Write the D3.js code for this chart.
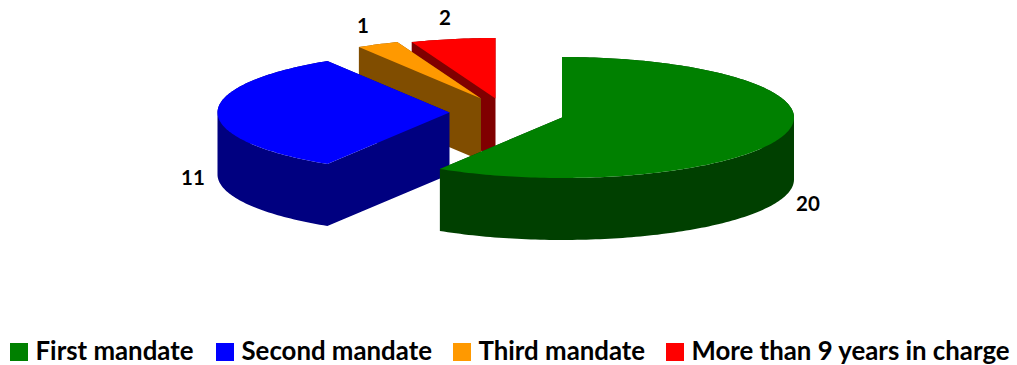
<!DOCTYPE html>
<html>
<head>
<meta charset="utf-8">
<script src="https://cdn.jsdelivr.net/npm/d3@7"></script>
<style>
  html, body { margin: 0; padding: 0; background: #fff; }
  svg { display: block; }
  text { font-family: Lato, "Open Sans", sans-serif; font-weight: 700; fill: #000; }
</style>
</head>
<body>
<div id="chart"></div>
<script>
var categories = ["First mandate", "Second mandate", "Third mandate", "More than 9 years in charge"];
var values = [20, 11, 1, 2];
var topColors = ["#008000", "#0000ff", "#ff9900", "#ff0000"];
var sideColors = ["#004000", "#000080", "#804d00", "#800000"];

// layout of the exploded slices, same order as categories
var centers = [[562, 117.5], [449.5, 112.5], [481, 98.5], [495.5, 98.5]];
var labelPos = [[808, 211], [193, 185], [363, 33], [445, 25]];
var legendX = [10, 216, 453, 666];

var width = 1017, height = 365;
var radiusX = 232, radiusY = 60.5, depth = 62;

var svg = d3.select("#chart").append("svg")
    .attr("width", width)
    .attr("height", height);

var pie = d3.pie().sort(null).value(function(d){ return d; });
var slices = pie(values);

// unit circle onto the tilted plane
var projX = d3.scaleLinear().domain([-1, 1]).range([-radiusX, radiusX]);
var projY = d3.scaleLinear().domain([-1, 1]).range([radiusY, -radiusY]);

function rimPoints(d, c){
    var n = Math.max(2, Math.ceil((d.endAngle - d.startAngle) / 0.02));
    return d3.range(n + 1).map(function(i){
        var a = d.startAngle + (d.endAngle - d.startAngle) * i / n;
        return [c[0] + projX(Math.sin(a)), c[1] + projY(Math.cos(a))];
    });
}

var line = d3.line();

function topPath(d, c){
    return line([c].concat(rimPoints(d, c))) + "Z";
}

// one quad hanging below an edge of the top face
function wallQuad(p, q){
    var quad = [p, q, [q[0], q[1] + depth], [p[0], p[1] + depth]];
    // same winding everywhere, so overlapping quads stay filled
    if (d3.polygonArea(quad) < 0) quad.reverse();
    return line(quad) + "Z";
}

function wallPath(d, c){
    var rim = rimPoints(d, c);
    var path = wallQuad(c, rim[0]) + wallQuad(c, rim[rim.length - 1]);
    for (var i = 1; i < rim.length; i++) {
        path += wallQuad(rim[i - 1], rim[i]);
    }
    return path;
}

// back slices first
var drawOrder = [3, 2, 1, 0];

var groups = svg.selectAll("g.slice")
    .data(drawOrder)
    .enter().append("g")
    .attr("class", "slice");

groups.append("path")
    .attr("d", function(i){ return wallPath(slices[i], centers[i]); })
    .attr("fill", function(i){ return sideColors[i]; });

groups.append("path")
    .attr("d", function(i){ return topPath(slices[i], centers[i]); })
    .attr("fill", function(i){ return topColors[i]; });

svg.selectAll("text.value")
    .data(values)
    .enter().append("text")
    .attr("class", "value")
    .attr("x", function(d, i){ return labelPos[i][0]; })
    .attr("y", function(d, i){ return labelPos[i][1]; })
    .attr("text-anchor", "middle")
    .style("font-size", "20.5px")
    .text(function(d){ return d; });

var legend = svg.selectAll("g.legend")
    .data(categories)
    .enter().append("g")
    .attr("class", "legend")
    .attr("transform", function(d, i){ return "translate(" + legendX[i] + ",343)"; });

legend.append("rect")
    .attr("width", 18)
    .attr("height", 18)
    .attr("fill", function(d, i){ return topColors[i]; });

legend.append("text")
    .attr("x", 25.5)
    .attr("y", 17)
    .style("font-size", "25.8px")
    .text(function(d){ return d; });
</script>
</body>
</html>
